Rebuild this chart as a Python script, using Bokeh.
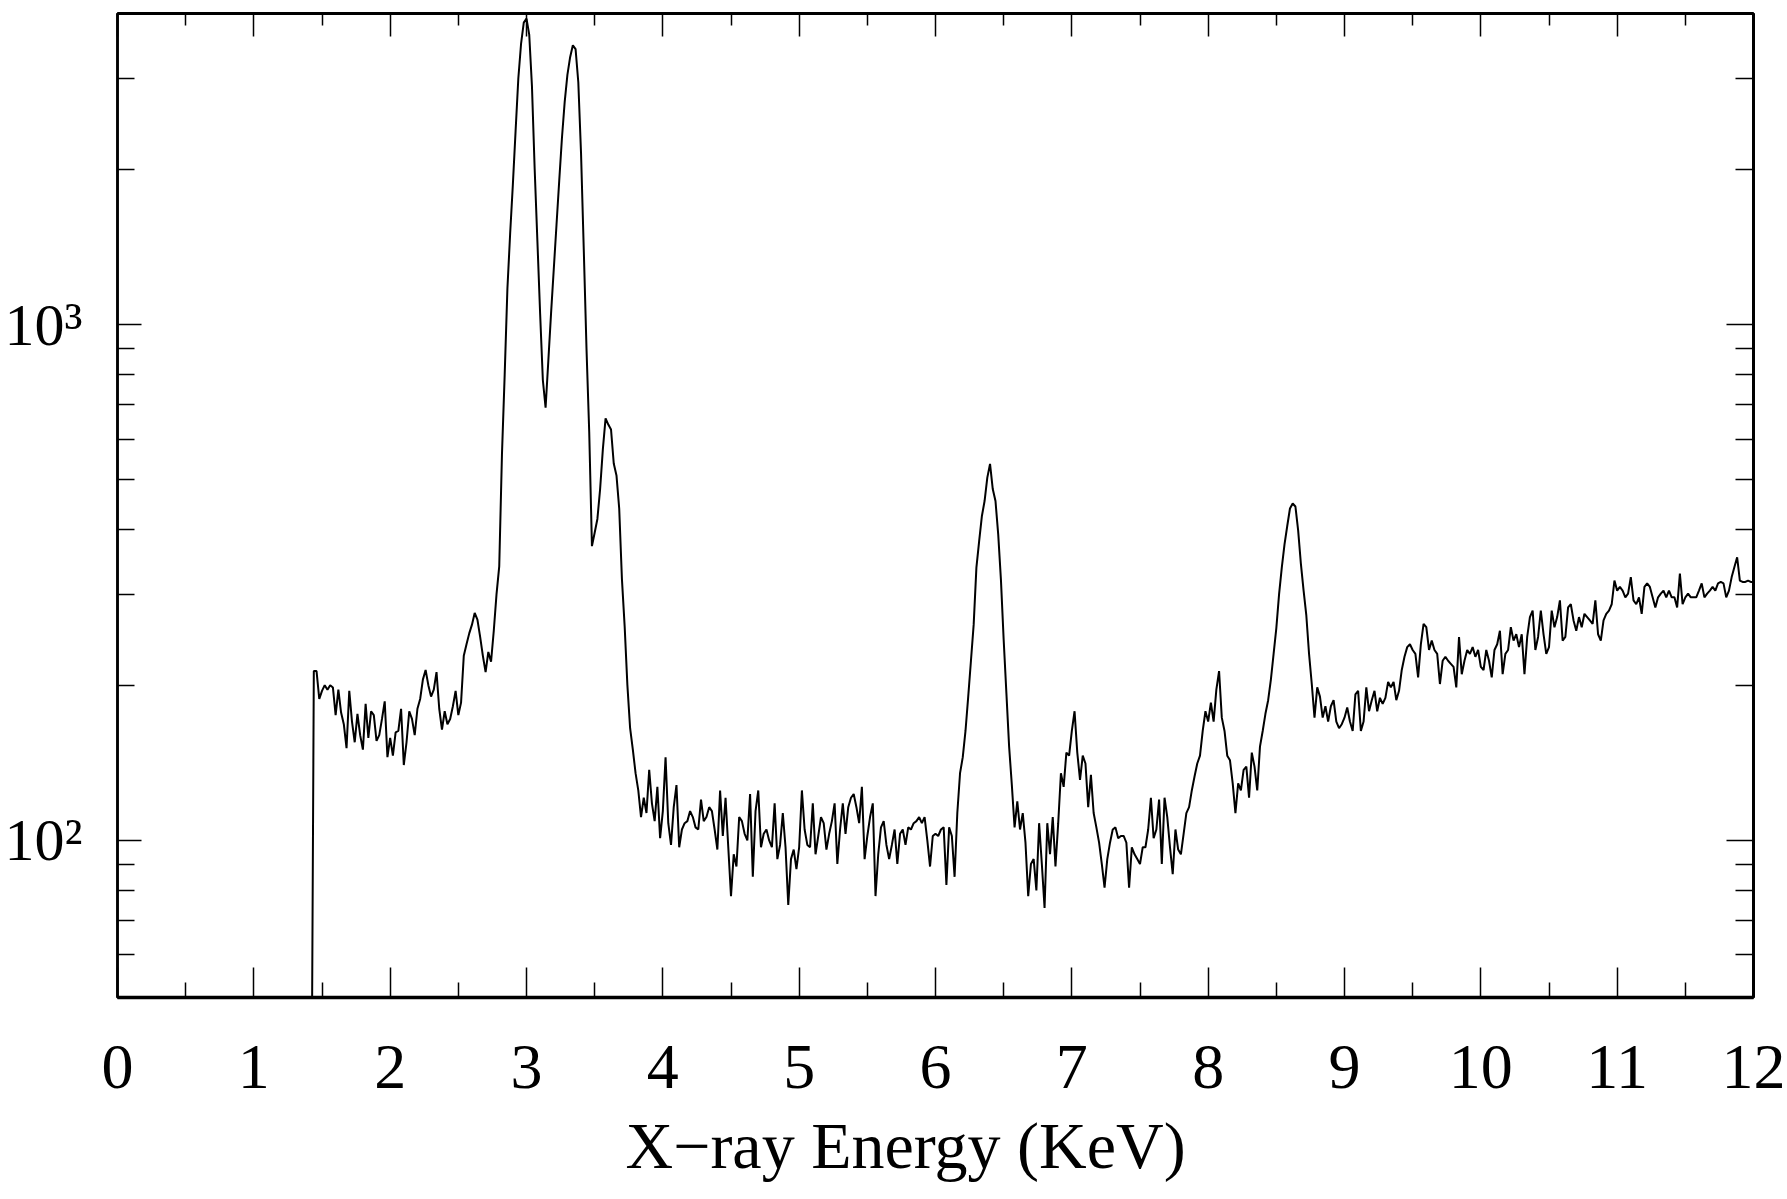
from bokeh.plotting import figure
from bokeh.models import (Range1d, FixedTicker, LinearAxis, LogAxis, ColumnDataSource,
                          CustomLabelingPolicy, Title)
from bokeh.embed import file_html
from bokeh.resources import INLINE

# ---- data: detector channel calibration and counts per channel ----
E_START = 1.42   # keV, first channel
E_STEP = 0.02    # keV per channel

counts = [
    20, 213, 213, 188, 195, 200, 196, 200, 198, 175,
    196, 177, 168, 151, 195, 170, 155, 176, 160, 150,
    184, 158, 178, 175, 156, 160, 172, 186, 145, 158,
    146, 162, 163, 180, 140, 155, 178, 172, 160, 180,
    188, 205, 214, 200, 190, 196, 212, 180, 164, 178,
    168, 172, 182, 195, 175, 185, 228, 240, 252, 262,
    276, 268, 248, 228, 212, 232, 222, 255, 300, 340,
    560, 800, 1175, 1500, 1870, 2375, 3000, 3500, 3850, 3920,
    3650, 2900, 2000, 1450, 1050, 780, 690, 850, 1050, 1280,
    1560, 1900, 2300, 2700, 3050, 3300, 3480, 3420, 2950, 2150,
    1400, 900, 620, 372, 395, 420, 480, 573, 658, 640,
    626, 538, 510, 440, 321, 260, 200, 165, 150, 135,
    125, 111, 121, 113, 137, 118, 109, 127, 101, 114,
    145, 108, 98, 116, 128, 97, 105, 108, 109, 114,
    111, 106, 105, 120, 109, 111, 116, 114, 105, 96,
    125, 102, 121, 97, 78, 94, 89, 111, 109, 103,
    100, 123, 85, 114, 125, 97, 103, 105, 100, 97,
    118, 92, 98, 113, 97, 75, 92, 96, 88, 97,
    125, 105, 98, 97, 118, 94, 102, 111, 108, 96,
    103, 109, 118, 90, 105, 118, 103, 116, 121, 123,
    116, 108, 127, 92, 102, 111, 118, 78, 94, 106,
    109, 98, 92, 98, 105, 90, 103, 105, 98, 106,
    105, 108, 109, 111, 108, 111, 100, 89, 102, 103,
    102, 105, 106, 82, 106, 102, 85, 113, 135, 145,
    163, 190, 223, 262, 338, 380, 425, 455, 505, 537,
    480, 455, 392, 320, 245, 193, 152, 128, 106, 119,
    105, 113, 99, 78, 90, 92, 80, 108, 90, 74,
    108, 94, 111, 89, 108, 135, 127, 148, 146, 163,
    178, 148, 131, 146, 141, 116, 134, 113, 106, 99,
    90, 81, 92, 99, 105, 106, 101, 102, 102, 99,
    81, 97, 94, 92, 90, 97, 97, 105, 121, 101,
    105, 120, 90, 121, 111, 97, 86, 105, 96, 94,
    103, 113, 116, 125, 133, 141, 146, 163, 178, 170,
    185, 170, 196, 213, 173, 163, 146, 143, 129, 113,
    129, 125, 137, 139, 121, 148, 139, 125, 152, 163,
    176, 187, 205, 230, 258, 300, 338, 375, 407, 440,
    450, 444, 399, 344, 305, 273, 230, 201, 173, 198,
    190, 173, 182, 170, 182, 187, 170, 165, 168, 173,
    181, 170, 163, 192, 195, 163, 170, 198, 178, 187,
    195, 178, 189, 184, 189, 203, 198, 203, 187, 195,
    214, 227, 237, 240, 234, 230, 207, 240, 263, 259,
    234, 244, 234, 230, 201, 223, 227, 223, 220, 217,
    198, 248, 210, 223, 234, 230, 237, 227, 234, 217,
    214, 234, 223, 207, 234, 240, 255, 210, 230, 234,
    259, 244, 251, 237, 251, 210, 248, 271, 279, 234,
    248, 279, 251, 230, 237, 279, 259, 271, 292, 244,
    248, 283, 287, 267, 255, 271, 259, 275, 271, 267,
    263, 292, 251, 244, 267, 275, 279, 287, 319, 305,
    310, 305, 296, 301, 324, 292, 287, 296, 275, 310,
    315, 310, 296, 283, 296, 301, 305, 296, 305, 296,
    296, 283, 329, 287, 296, 301, 296, 296, 296, 305,
    315, 296, 301, 305, 310, 305, 315, 317, 315, 296,
    305, 324, 339, 354, 319, 317, 317, 319, 317, 317,
]
energy = [round(E_START + E_STEP * i, 2) for i in range(len(counts))]

x_major_ticks = [0, 1, 2, 3, 4, 5, 6, 7, 8, 9, 10, 11, 12]
x_minor_ticks = [0.5, 1.5, 2.5, 3.5, 4.5, 5.5, 6.5, 7.5, 8.5, 9.5, 10.5, 11.5]
y_major_ticks = [100, 1000]
y_minor_ticks = [60, 70, 80, 90, 200, 300, 400, 500, 600, 700, 800, 900, 2000, 3000]
y_tick_labels = {100: "10\u00b2", 1000: "10\u00b3"}
x_title = "X\u2212ray Energy (KeV)"

FONT = "Liberation Serif"

src = ColumnDataSource(data=dict(energy=energy, counts=counts))

p = figure(width=1787, height=1199,
           x_range=Range1d(0, 12), y_range=Range1d(49.6, 4010),
           y_axis_type="log",
           output_backend="svg", toolbar_location=None,
           min_border_left=117, min_border_right=34,
           min_border_top=13, min_border_bottom=202)

p.background_fill_color = "white"
p.border_fill_color = "white"
p.xgrid.visible = False
p.ygrid.visible = False
p.outline_line_color = "black"
p.outline_line_width = 2.5

p.line("energy", "counts", source=src, line_color="black", line_width=2.0)

# bottom axis
xa = p.xaxis[0]
xa.ticker = FixedTicker(ticks=x_major_ticks, minor_ticks=x_minor_ticks)
xa.major_tick_in = 30
xa.major_tick_out = 0
xa.minor_tick_in = 15
xa.minor_tick_out = 0
xa.major_tick_line_width = 1.5
xa.minor_tick_line_width = 1.5
xa.axis_line_width = 3.5
xa.axis_line_color = "black"
xa.major_label_text_font = FONT
xa.major_label_text_font_size = "64px"
xa.major_label_text_color = "black"
xa.major_label_standoff = 48

# x title below the tick labels, placed as in the reference (slightly left of centre)
x_title_box = Title(text=x_title, align="left", offset=508, standoff=33,
                    text_font=FONT, text_font_size="66px",
                    text_font_style="normal", text_color="black")
p.add_layout(x_title_box, "below")

# left axis
ya = p.yaxis[0]
ya.ticker = FixedTicker(ticks=y_major_ticks, minor_ticks=y_minor_ticks)
ya.major_label_overrides = y_tick_labels
ya.major_tick_in = 24
ya.major_tick_out = 0
ya.minor_tick_in = 17
ya.minor_tick_out = 0
ya.major_tick_line_width = 1.5
ya.minor_tick_line_width = 1.5
ya.axis_line_width = 2.5
ya.major_label_text_font = FONT
ya.major_label_text_font_size = "60px"
ya.major_label_text_color = "black"
ya.major_label_standoff = 35
ya.major_label_orientation = "horizontal"

# top axis (ticks only)
top = LinearAxis(ticker=FixedTicker(ticks=x_major_ticks, minor_ticks=x_minor_ticks))
top.major_tick_in = 23
top.major_tick_out = 0
top.minor_tick_in = 12
top.minor_tick_out = 0
top.major_tick_line_width = 1.5
top.minor_tick_line_width = 1.5
top.axis_line_width = 3
top.major_label_text_font_size = "1px"
top.major_label_standoff = 0
top.major_label_policy = CustomLabelingPolicy(code="return []")
p.add_layout(top, "above")

# right axis (ticks only)
right = LogAxis(ticker=FixedTicker(ticks=y_major_ticks, minor_ticks=y_minor_ticks))
right.major_tick_in = 27
right.major_tick_out = 0
right.minor_tick_in = 18
right.minor_tick_out = 0
right.major_tick_line_width = 1.5
right.minor_tick_line_width = 1.5
right.axis_line_width = 3
right.major_label_text_font_size = "1px"
right.major_label_standoff = 0
right.major_label_policy = CustomLabelingPolicy(code="return []")
p.add_layout(right, "right")

open("out.html", "w").write(file_html(p, INLINE))
